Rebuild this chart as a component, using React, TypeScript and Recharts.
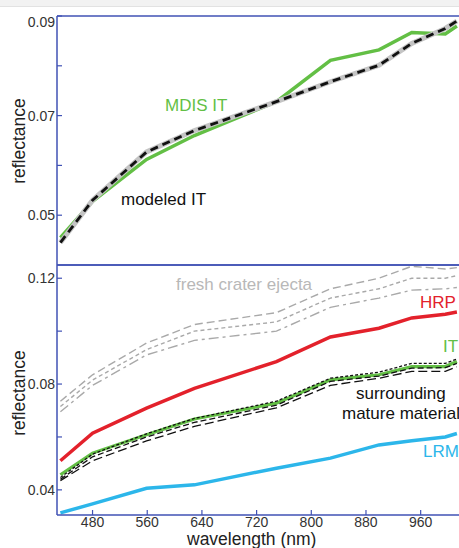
import React from "react";
import { LineChart, Line, XAxis, YAxis } from "recharts";

// MDIS WAC filter centres (nm)
const wavelengths = [433, 480, 559, 629, 749, 828, 899, 947, 996, 1013];
const xTicks = [480, 560, 640, 720, 800, 880, 960];

// top panel
const mdisIT = [0.0455, 0.0528, 0.0612, 0.066, 0.0728, 0.0811, 0.0832, 0.0867, 0.0864, 0.088];
const modeledIT = [0.0445, 0.053, 0.0627, 0.067, 0.0728, 0.0768, 0.0801, 0.0845, 0.0875, 0.089];
const topTicks = [0.05, 0.06, 0.07, 0.08, 0.09];
const topLabels = ["0.05", "0.07", "0.09"];

// bottom panel
const freshA = [0.0735, 0.0835, 0.0955, 0.1025, 0.107, 0.116, 0.12, 0.1245, 0.1235, 0.124];
const freshB = [0.0715, 0.0815, 0.093, 0.1, 0.1035, 0.1125, 0.116, 0.12, 0.12, 0.121];
const freshC = [0.0695, 0.0795, 0.091, 0.0965, 0.1, 0.109, 0.1125, 0.1155, 0.116, 0.1165];
const hrp = [0.051, 0.0614, 0.0709, 0.0784, 0.0885, 0.0978, 0.1011, 0.105, 0.1064, 0.1072];
const itBottom = [0.0457, 0.0539, 0.0608, 0.0668, 0.0728, 0.0816, 0.0835, 0.0866, 0.0866, 0.0885];
const matureA = [0.0447, 0.0535, 0.0612, 0.067, 0.0735, 0.0822, 0.0845, 0.0878, 0.0878, 0.0895];
const matureB = [0.044, 0.0525, 0.06, 0.0655, 0.072, 0.081, 0.083, 0.086, 0.0862, 0.0878];
const matureC = [0.0435, 0.051, 0.0585, 0.064, 0.071, 0.0795, 0.0822, 0.0848, 0.0848, 0.0865];
const lrm = [0.0313, 0.0347, 0.0406, 0.0419, 0.0482, 0.052, 0.057, 0.0586, 0.06, 0.0613];
const bottomTicks = [0.04, 0.06, 0.08, 0.1, 0.12];
const bottomLabels = ["0.04", "0.08", "0.12"];

const topData = wavelengths.map((w, i) => ({ w, mdis: mdisIT[i], model: modeledIT[i] }));
const bottomData = wavelengths.map((w, i) => ({
  w,
  fa: freshA[i], fb: freshB[i], fc: freshC[i],
  hrp: hrp[i], it: itBottom[i],
  ma: matureA[i], mb: matureB[i], mc: matureC[i],
  lrm: lrm[i],
}));

const FONT = "'Liberation Sans', Arial, Helvetica, sans-serif";
const AXIS = "#4052b5";
const GREEN = "#63bf45";
const RED = "#e3212b";
const CYAN = "#2cb6ea";
const GRAY = "#a9a9a9";

const fmt = (labels: string[]) => (v: number) => {
  const s = v.toFixed(2);
  return labels.includes(s) ? s : "";
};

const YTick = (top: number) => (props: any) => {
  const { x, y, payload, tickFormatter } = props;
  const s = tickFormatter ? tickFormatter(payload.value, 0) : String(payload.value);
  const shift = Math.abs(payload.value - top) < 1e-9 ? 6 : 0;
  return (
    <text x={x} y={y + shift} dy="0.355em" textAnchor="end" fontSize={14} fill="#333">
      {s}
    </text>
  );
};

const axisCommon = {
  stroke: AXIS,
  strokeWidth: 1.5,
  tickLine: { stroke: AXIS, strokeWidth: 1.2 },
  tickSize: -5,
};

const Lbl = ({ left, top, color, lh = 20, children }: any) => (
  <div style={{ position: "absolute", left, top, color, fontSize: 17, lineHeight: lh + "px", whiteSpace: "nowrap", fontFamily: FONT }}>
    {children}
  </div>
);

const YLbl = ({ cy }: { cy: number }) => (
  <div
    style={{
      position: "absolute", left: 19, top: cy, transform: "translate(-50%, -50%) rotate(-90deg)",
      fontSize: 17.5, whiteSpace: "nowrap", color: "#222", fontFamily: FONT,
    }}
  >
    reflectance
  </div>
);

export default function App() {
  return (
    <div style={{ position: "absolute", left: 0, top: 0, width: 459, height: 548, overflow: "hidden", background: "#fff", fontFamily: FONT }}>
      <div style={{ position: "absolute", left: 0, top: 0, width: 459, height: 6, background: "#f2f2f2", borderBottom: "1px solid #e2e2e2" }} />

      <div style={{ position: "absolute", left: 0, top: 0 }}>
        <LineChart width={470} height={275} data={topData} margin={{ top: 15, right: 0, bottom: 0, left: 0 }}>
          <XAxis xAxisId="b" dataKey="w" type="number" domain={[428, 1019]} ticks={xTicks} orientation="bottom" height={10} tick={false} {...axisCommon} allowDataOverflow />
          <XAxis xAxisId="t" dataKey="w" type="number" domain={[428, 1019]} ticks={xTicks} orientation="top" height={1} tick={false} {...axisCommon} allowDataOverflow />
          <YAxis yAxisId="l" type="number" domain={[0.04, 0.09]} ticks={topTicks} width={57} tickMargin={7} tickFormatter={fmt(topLabels)} tick={YTick(0.09)} {...axisCommon} allowDataOverflow />
          <YAxis yAxisId="r" orientation="right" type="number" domain={[0.04, 0.09]} ticks={topTicks} width={9} tick={false} {...axisCommon} allowDataOverflow />
          <Line xAxisId="b" yAxisId="l" dataKey="mdis" stroke={GREEN} strokeWidth={3.5} dot={false} isAnimationActive={false} />
          <Line xAxisId="b" yAxisId="l" dataKey="model" stroke="#c4c4c4" strokeWidth={5} dot={false} isAnimationActive={false} />
          <Line xAxisId="b" yAxisId="l" dataKey="model" stroke="#111" strokeWidth={2.8} strokeDasharray="8 5" dot={false} isAnimationActive={false} />
        </LineChart>
      </div>

      <div style={{ position: "absolute", left: 0, top: 260 }}>
        <LineChart width={470} height={288} data={bottomData} margin={{ top: 4, right: 0, bottom: 0, left: 0 }}>
          <XAxis xAxisId="b" dataKey="w" type="number" domain={[428, 1019]} ticks={xTicks} orientation="bottom" height={33} interval={0} tickMargin={7} tick={{ fontSize: 14, fill: "#333" }} {...axisCommon} allowDataOverflow />
          <XAxis xAxisId="t" dataKey="w" type="number" domain={[428, 1019]} ticks={xTicks} orientation="top" height={1} tick={false} {...axisCommon} allowDataOverflow />
          <YAxis yAxisId="l" type="number" domain={[0.0305, 0.125]} ticks={bottomTicks} width={57} tickMargin={7} tickFormatter={fmt(bottomLabels)} tick={YTick(-1)} {...axisCommon} allowDataOverflow />
          <YAxis yAxisId="r" orientation="right" type="number" domain={[0.0305, 0.125]} ticks={bottomTicks} width={9} tick={false} {...axisCommon} allowDataOverflow />
          <Line xAxisId="b" yAxisId="l" dataKey="fa" stroke={GRAY} strokeWidth={1.4} strokeDasharray="8 4" dot={false} isAnimationActive={false} />
          <Line xAxisId="b" yAxisId="l" dataKey="fb" stroke={GRAY} strokeWidth={1.4} strokeDasharray="4 3" dot={false} isAnimationActive={false} />
          <Line xAxisId="b" yAxisId="l" dataKey="fc" stroke={GRAY} strokeWidth={1.4} strokeDasharray="10 4 3 4" dot={false} isAnimationActive={false} />
          <Line xAxisId="b" yAxisId="l" dataKey="hrp" stroke={RED} strokeWidth={3.5} dot={false} isAnimationActive={false} />
          <Line xAxisId="b" yAxisId="l" dataKey="it" stroke={GREEN} strokeWidth={3.2} dot={false} isAnimationActive={false} />
          <Line xAxisId="b" yAxisId="l" dataKey="ma" stroke="#111" strokeWidth={1.3} strokeDasharray="3 2" dot={false} isAnimationActive={false} />
          <Line xAxisId="b" yAxisId="l" dataKey="mb" stroke="#111" strokeWidth={1.3} strokeDasharray="6 3" dot={false} isAnimationActive={false} />
          <Line xAxisId="b" yAxisId="l" dataKey="mc" stroke="#111" strokeWidth={1.3} strokeDasharray="9 4" dot={false} isAnimationActive={false} />
          <Line xAxisId="b" yAxisId="l" dataKey="lrm" stroke={CYAN} strokeWidth={3.5} dot={false} isAnimationActive={false} />
        </LineChart>
      </div>

      <YLbl cy={141} />
      <YLbl cy={393} />
      <Lbl left={165} top={96} color={GREEN}>MDIS IT</Lbl>
      <Lbl left={121} top={190} color="#111">modeled IT</Lbl>
      <Lbl left={176} top={275} color="#b8b8b8">fresh crater ejecta</Lbl>
      <Lbl left={420} top={293} color={RED}>HRP</Lbl>
      <Lbl left={443} top={337} color={GREEN}>IT</Lbl>
      <Lbl left={356} top={384} color="#111">surrounding</Lbl>
      <Lbl left={342} top={404} color="#111">mature material</Lbl>
      <Lbl left={423} top={442} color={CYAN}>LRM</Lbl>
      <div style={{ position: "absolute", left: 187, top: 531, fontSize: 17.5, lineHeight: "17px", color: "#222", whiteSpace: "nowrap" }}>wavelength (nm)</div>
    </div>
  );
}
